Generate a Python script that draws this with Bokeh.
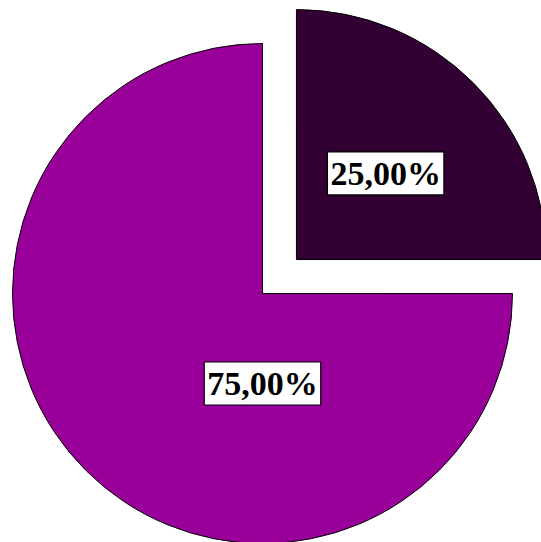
import math
from bokeh.plotting import figure
from bokeh.models import Range1d, ColumnDataSource
from bokeh.core.properties import value
from bokeh.embed import file_html
from bokeh.resources import INLINE

# data
labels = ["25,00%", "75,00%"]
values = [25, 75]
colors = ["#330033", "#990099"]

# layout/style
W, H = 541, 542
cx, cy = 262, 249          # pie centre (pixels, y up)
radius = 250
explode = [48, 0]          # explode distance per slice (px)
label_angle = [44, 270]    # degrees, label direction per slice
label_dist = [124, 90]     # label distance from slice centre

p = figure(width=W, height=H, output_backend="svg", toolbar_location=None,
           x_range=Range1d(0, W), y_range=Range1d(0, H), min_border=0)
p.axis.visible = False
p.grid.visible = False
p.outline_line_color = None
p.background_fill_color = "white"
p.border_fill_color = "white"

total = sum(values)
start = 0.0
xs, ys, sa, ea, lx, ly = [], [], [], [], [], []
for i, v in enumerate(values):
    span = 2 * math.pi * v / total
    mid = start + span / 2
    ox = cx + explode[i] * math.cos(mid)
    oy = cy + explode[i] * math.sin(mid)
    xs.append(ox); ys.append(oy)
    sa.append(start); ea.append(start + span)
    a = math.radians(label_angle[i])
    lx.append(ox + label_dist[i] * math.cos(a))
    ly.append(oy + label_dist[i] * math.sin(a))
    start += span

src = ColumnDataSource(dict(x=xs, y=ys, sa=sa, ea=ea, color=colors,
                            lx=lx, ly=ly, label=labels))
p.wedge(x="x", y="y", radius=radius, radius_units="screen",
        start_angle="sa", end_angle="ea", fill_color="color",
        line_color="black", line_width=1, source=src)

p.text(x="lx", y="ly", text="label", source=src,
       text_font=value("Liberation Serif"), text_font_style="bold",
       text_font_size="34px", text_color="black",
       text_align="center", text_baseline="middle",
       background_fill_color="white", border_line_color="black",
       border_line_width=1.2, padding=3)

open("out.html", "w").write(file_html(p, INLINE))
